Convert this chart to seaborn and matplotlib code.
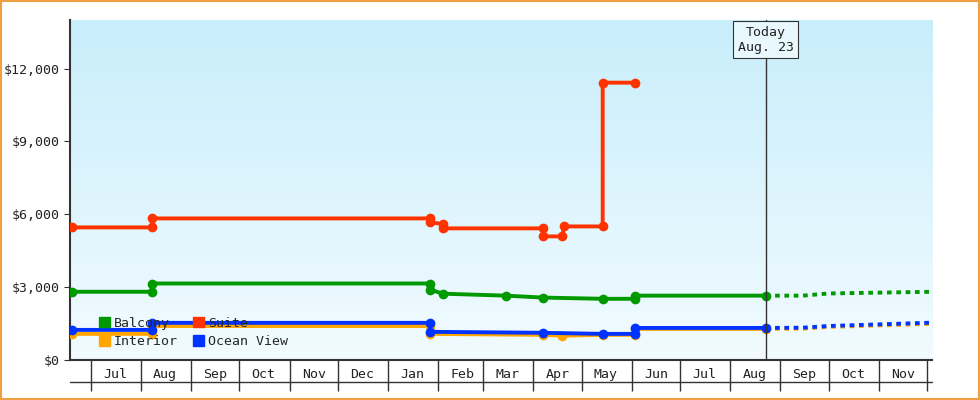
import numpy as np
import pandas as pd
import matplotlib
matplotlib.use("Agg")
import matplotlib.pyplot as plt
import seaborn as sns

sns.set_style("white")
plt.rcParams['font.family'] = ['DejaVu Sans Mono']

# Price history (vertices of step lines)
suite_dates = ["2022-06-19","2022-08-08","2022-08-08","2023-01-27","2023-01-27","2023-02-04","2023-02-04","2023-04-07","2023-04-07","2023-04-19","2023-04-20","2023-05-14","2023-05-14","2023-06-03"]
suite_vals  = [5460,5460,5830,5830,5670,5600,5420,5420,5090,5090,5500,5500,11420,11420]

balcony_dates = ["2022-06-19","2022-08-08","2022-08-08","2023-01-27","2023-01-27","2023-02-04","2023-03-15","2023-04-07","2023-05-14","2023-06-03","2023-06-03","2023-08-23"]
balcony_vals  = [2810,2810,3150,3150,2900,2730,2650,2570,2520,2520,2650,2650]
balcony_fc_dates = ["2023-08-23","2023-09-15","2023-10-01","2023-12-05"]
balcony_fc_vals  = [2650,2650,2740,2810]

interior_dates = ["2022-06-19","2022-08-08","2022-08-08","2023-01-27","2023-01-27","2023-04-07","2023-04-19","2023-05-14","2023-06-03","2023-06-03","2023-08-23"]
interior_vals  = [1075,1075,1400,1400,1075,1035,1000,1035,1035,1280,1280]
interior_fc_dates = ["2023-08-23","2023-09-15","2023-10-01","2023-12-05"]
interior_fc_vals  = [1280,1290,1360,1490]

ocean_dates = ["2022-06-19","2022-08-08","2022-08-08","2023-01-27","2023-01-27","2023-04-07","2023-05-14","2023-06-03","2023-06-03","2023-08-23"]
ocean_vals  = [1240,1240,1530,1530,1160,1120,1075,1075,1320,1320]
ocean_fc_dates = ["2023-08-23","2023-09-15","2023-10-01","2023-12-05"]
ocean_fc_vals  = [1320,1330,1400,1540]

today = "2023-08-23"
month_starts = pd.date_range("2022-07-01", "2023-12-01", freq="MS")

colors = {"Balcony": "#009900", "Suite": "#ff3300", "Interior": "#ffa500", "Ocean View": "#0033ff"}

fig = plt.figure(figsize=(9.8, 4.0), dpi=100)
fig.patch.set_facecolor("white")
ax = fig.add_axes([70/980, 40/400, 862/980, 340/400])

xmin, xmax = pd.Timestamp("2022-06-18"), pd.Timestamp("2023-12-04")
ax.set_xlim(xmin, xmax)
ax.set_ylim(0, 14000)

# gradient background (cyan at top, near-white at bottom)
grad = np.linspace(0, 1, 256).reshape(-1, 1)
cmap = matplotlib.colors.LinearSegmentedColormap.from_list("bg", ["#c8eefb", "#f2fbff"])
ax.imshow(grad, aspect="auto", cmap=cmap, extent=[0, 1, 0, 1], origin="upper",
          transform=ax.transAxes, zorder=0)

series = [("Interior", interior_dates, interior_vals, interior_fc_dates, interior_fc_vals),
          ("Ocean View", ocean_dates, ocean_vals, ocean_fc_dates, ocean_fc_vals),
          ("Balcony", balcony_dates, balcony_vals, balcony_fc_dates, balcony_fc_vals),
          ("Suite", suite_dates, suite_vals, None, None)]
for name, d, v, fd, fv in series:
    df = pd.DataFrame({"date": pd.to_datetime(d), "price": v})
    sns.lineplot(data=df, x="date", y="price", ax=ax, color=colors[name], lw=2.8,
                 estimator=None, marker="o", markersize=7, markeredgewidth=0,
                 sort=False, zorder=3)
    if fd is not None:
        fdf = pd.DataFrame({"date": pd.to_datetime(fd), "price": fv})
        sns.lineplot(data=fdf, x="date", y="price", ax=ax, color=colors[name], lw=2.8,
                     estimator=None, linestyle=(0, (1.2, 1.2)), sort=False, zorder=3)

# today line
t = pd.Timestamp(today)
ax.axvline(t, color="#333333", lw=1, zorder=4)
ax.annotate("Today\nAug. 23", xy=(t, 1.0), xycoords=("data", "axes fraction"),
            xytext=(0, -4), textcoords="offset points", ha="center", va="top",
            fontsize=9.5, color="#222222", zorder=5,
            bbox=dict(boxstyle="square,pad=0.35", fc="#e8f8fd", ec="#333333", lw=0.8))

# axes styling
for s in ["top", "right"]:
    ax.spines[s].set_visible(False)
ax.spines["left"].set_color("#333333"); ax.spines["left"].set_linewidth(1.5)
ax.spines["bottom"].set_color("#333333"); ax.spines["bottom"].set_linewidth(1.5)
ax.set_yticks([0, 3000, 6000, 9000, 12000])
ax.yaxis.set_major_formatter(matplotlib.ticker.FuncFormatter(lambda v, p: f"${v:,.0f}"))
ax.tick_params(axis="y", left=True, length=4, color="#333333", labelsize=9.5, labelcolor="#222222")
ax.set_xlabel(""); ax.set_ylabel("")

ax.set_xticks(month_starts)
ax.xaxis.set_major_formatter(matplotlib.ticker.NullFormatter())
ax.tick_params(axis="x", which="major", bottom=True, length=22, width=1, color="#333333", direction="out")
mids = [m + pd.Timedelta(days=15) for m in month_starts[:-1]]
ax.set_xticks(mids, minor=True)
ax.set_xticklabels([m.strftime("%b") for m in month_starts[:-1]], minor=True)
ax.tick_params(axis="x", which="minor", bottom=True, length=0, pad=6, labelsize=9.5, labelcolor="#222222")
ax.plot([0, 1], [-22/340, -22/340], transform=ax.transAxes, color="#333333", lw=1, clip_on=False)

# legend
from matplotlib.patches import Patch
handles = [Patch(color=colors[n]) for n in ["Balcony", "Interior", "Suite", "Ocean View"]]
ax.legend(handles, ["Balcony", "Interior", "Suite", "Ocean View"], ncol=2, loc="lower left",
          bbox_to_anchor=(0.02, 0.0), frameon=False, fontsize=9.5, handlelength=0.8,
          handleheight=0.8, handletextpad=0.3, columnspacing=1.2, labelspacing=0.4)

# orange frame
fig.add_artist(plt.Rectangle((0.001, 0.002), 0.998, 0.996, transform=fig.transFigure,
                             fill=False, ec="#f0a040", lw=1.5))

fig.savefig("out.png", dpi=100)
